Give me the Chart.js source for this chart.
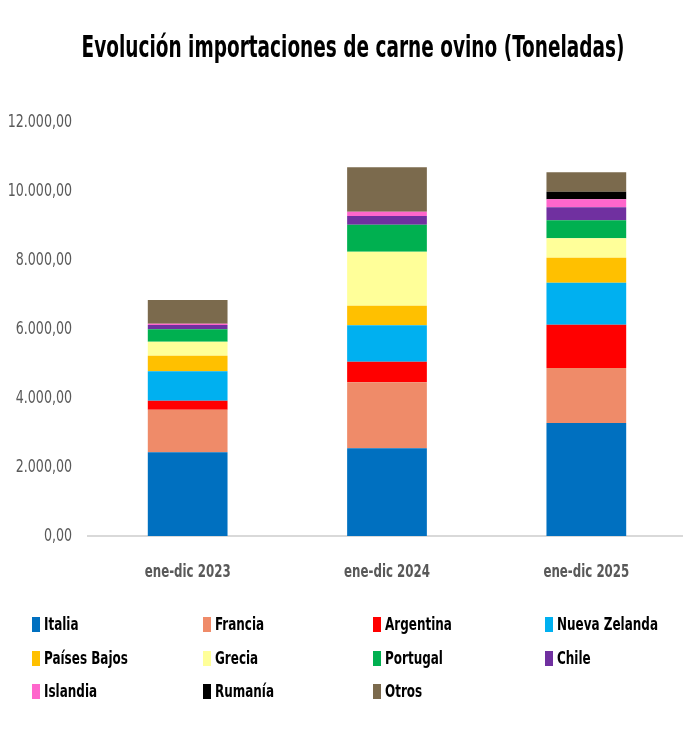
<!DOCTYPE html>
<html>
<head>
<meta charset="utf-8">
<script src="https://cdn.jsdelivr.net/npm/chart.js@4"></script>
<style>
  html, body { margin: 0; padding: 0; background: #fff; overflow: hidden; }
  #wrap { width: 686px; height: 742px; position: relative; }
</style>
</head>
<body>
<div id="wrap"><canvas id="chart"></canvas></div>
<script>
const FONT = '"DejaVu Sans Condensed", "DejaVu Sans", sans-serif';

const title = 'Evolución importaciones de carne ovino (Toneladas)';
const periods = ['ene-dic 2023', 'ene-dic 2024', 'ene-dic 2025'];
const yTicks = [0, 2000, 4000, 6000, 8000, 10000, 12000];

const italia = [2426, 2541, 3275];
const francia = [1236, 1913, 1595];
const argentina = [261, 599, 1256];
const nuevaZelanda = [850, 1054, 1217];
const paisesBajos = [453, 569, 725];
const grecia = [406, 1565, 560];
const portugal = [358, 783, 522];
const chile = [126, 251, 377];
const islandia = [38, 125, 231];
const rumania = [0, 0, 223];
const otros = [687, 1286, 560];

const series = [
  ['Italia', italia, '#0070c0'],
  ['Francia', francia, '#ef8b69'],
  ['Argentina', argentina, '#ff0000'],
  ['Nueva Zelanda', nuevaZelanda, '#00b0f0'],
  ['Países Bajos', paisesBajos, '#ffc000'],
  ['Grecia', grecia, '#ffff99'],
  ['Portugal', portugal, '#00b050'],
  ['Chile', chile, '#7030a0'],
  ['Islandia', islandia, '#ff66cc'],
  ['Rumanía', rumania, '#000000'],
  ['Otros', otros, '#7b6a4d'],
];

function fmt(v) {
  const s = Math.round(v).toString().replace(/\B(?=(\d{3})+(?!\d))/g, '.');
  return s + ',00';
}

// the original uses a narrow (Calibri-like) face; squeeze DejaVu Condensed to match
function narrowText(ctx, text, x, y, k) {
  ctx.fillText(text, x, y, ctx.measureText(text).width * k);
}

const narrowLabels = {
  id: 'narrowLabels',
  afterDraw(chart) {
    const ctx = chart.ctx;
    const xs = chart.scales.x, ys = chart.scales.y;
    ctx.save();

    // title
    ctx.font = 'bold 30px ' + FONT;
    ctx.fillStyle = '#000';
    ctx.textAlign = 'center';
    ctx.textBaseline = 'alphabetic';
    ctx.fillText(title, 353, 57, 543);

    // y tick labels
    ctx.font = '18px ' + FONT;
    ctx.fillStyle = '#595959';
    ctx.textAlign = 'right';
    ctx.textBaseline = 'middle';
    ys.ticks.forEach(t => {
      narrowText(ctx, fmt(t.value), 72, ys.getPixelForValue(t.value), 0.78);
    });

    // x tick labels
    ctx.font = 'bold 18px ' + FONT;
    ctx.textAlign = 'center';
    periods.forEach((p, i) => {
      narrowText(ctx, p, xs.getPixelForTick(i), 572, 0.73);
    });

    // legend, 4 columns
    const cols = [32, 203, 373, 545];
    const rows = [624, 658, 691];
    ctx.font = 'bold 18px ' + FONT;
    ctx.textAlign = 'left';
    chart.data.datasets.forEach((ds, i) => {
      const x = cols[i % 4];
      const y = rows[Math.floor(i / 4)];
      ctx.fillStyle = ds.backgroundColor;
      ctx.fillRect(x, y - 7, 8, 15);
      ctx.fillStyle = '#000';
      narrowText(ctx, ds.label, x + 12, y + 1, 0.74);
    });
    ctx.restore();
  }
};

new Chart(document.getElementById('chart'), {
  type: 'bar',
  data: {
    labels: periods,
    datasets: series.map(([label, data, color]) => ({
      label,
      data,
      backgroundColor: color,
      borderWidth: 0,
      barPercentage: 0.4,
      categoryPercentage: 1,
    })),
  },
  options: {
    responsive: true,
    maintainAspectRatio: false,
    animation: false,
    layout: { padding: { left: 0, right: 0, top: 122, bottom: 0 } },
    plugins: {
      legend: { display: false },
      tooltip: { enabled: false },
      title: { display: false },
    },
    scales: {
      x: {
        stacked: true,
        grid: { display: false, drawTicks: false },
        border: { display: true, color: '#d9d9d9', width: 2 },
        ticks: { display: false },
        afterFit: s => { s.height = 206; },
      },
      y: {
        stacked: true,
        min: 0,
        max: 12000,
        afterBuildTicks: s => { s.ticks = yTicks.map(v => ({ value: v })); },
        grid: { display: false, drawTicks: false },
        border: { display: false },
        ticks: { display: false },
        afterFit: s => { s.width = 88; },
      },
    },
  },
  plugins: [narrowLabels],
});
</script>
</body>
</html>
